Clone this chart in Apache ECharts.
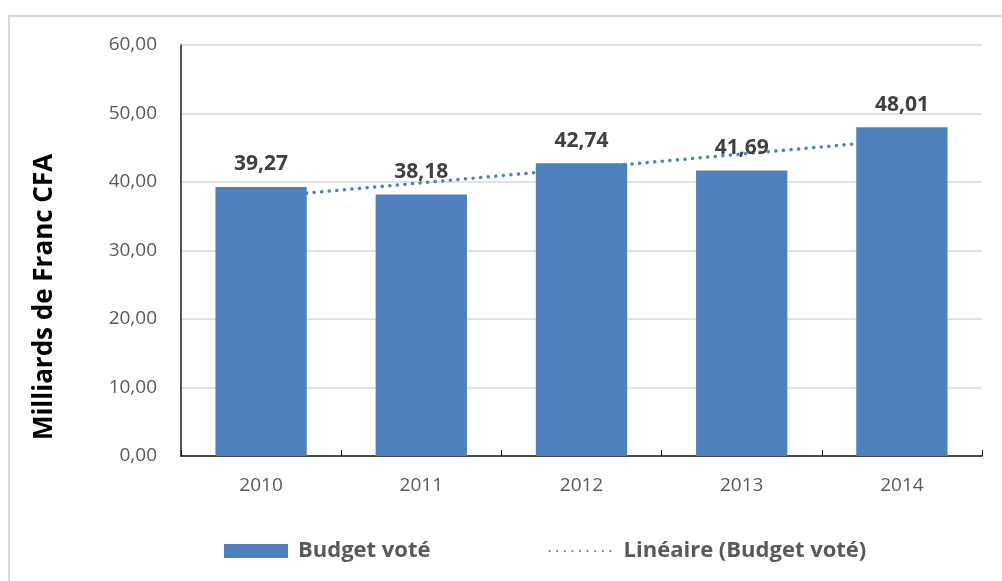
<!DOCTYPE html>
<html>
<head>
<meta charset="utf-8">
<script src="https://cdn.jsdelivr.net/npm/echarts@6/dist/echarts.min.js"></script>
<style>
html,body{margin:0;padding:0;background:#fff;}
#c{width:1002px;height:581px;}
</style>
</head>
<body>
<div id="c"></div>
<script>
var categories = ['2010', '2011', '2012', '2013', '2014'];
var budgetVote = [39.27, 38.18, 42.74, 41.69, 48.01];
var trendLinear = [37.78, 39.88, 41.98, 44.08, 46.18];
var yTicks = [0, 10, 20, 30, 40, 50, 60];
var yTitle = 'Milliards de Franc CFA';

var FONT = '"Open Sans", "Liberation Sans", sans-serif';
function fr(v) { return Number(v).toFixed(2).replace('.', ','); }

var chart = echarts.init(document.getElementById('c'));
chart.setOption({
  animation: false,
  backgroundColor: '#fff',
  textStyle: { fontFamily: FONT },
  graphic: [{
    type: 'rect',
    shape: { x: 9, y: 16, width: 1200, height: 800 },
    style: { fill: 'none', stroke: '#d9d9d9', lineWidth: 2 },
    silent: true
  }, {
    type: 'text',
    x: 45, y: 297,
    rotation: Math.PI / 2,
    style: {
      text: yTitle,
      fontFamily: FONT, fontSize: 26, fontWeight: 'bold', fill: '#000',
      align: 'center', verticalAlign: 'middle'
    },
    silent: true
  }],
  grid: { left: 181, right: 20, top: 45, bottom: 125, containLabel: false },
  legend: {
    left: 219, top: 535,
    itemWidth: 64, itemHeight: 14, itemGap: 118,
    textStyle: { fontFamily: FONT, fontSize: 22, fontWeight: 'bold', color: '#595959', padding: [0, 0, 0, 5] },
    data: [
      { name: 'Budget voté', icon: 'rect' },
      { name: 'Linéaire (Budget voté)', itemStyle: { opacity: 0 } }
    ]
  },
  xAxis: {
    type: 'category',
    data: categories,
    boundaryGap: true,
    axisLine: { lineStyle: { color: '#1a1a1a', width: 1.5 } },
    axisTick: { show: true, inside: true, length: 6, lineStyle: { color: '#1a1a1a' } },
    axisLabel: { fontFamily: FONT, fontSize: 19, color: '#595959', margin: 20 }
  },
  yAxis: {
    type: 'value',
    min: yTicks[0], max: yTicks[yTicks.length - 1], interval: 10,
    axisLine: { show: true, lineStyle: { color: '#1a1a1a', width: 1.5 } },
    axisTick: { show: false },
    splitLine: { lineStyle: { color: '#d9d9d9', width: 1.5 } },
    axisLabel: { fontFamily: FONT, fontSize: 19, color: '#595959', margin: 24, formatter: fr }
  },
  series: [
    {
      name: 'Linéaire (Budget voté)',
      type: 'line',
      data: trendLinear,
      symbol: 'none',
      z: 1,
      itemStyle: { color: '#4f81bd' },
      lineStyle: { color: '#4f81bd', width: 3.5, type: [0.1, 7.5], cap: 'round' }
    },
    {
      name: 'Budget voté',
      type: 'bar',
      data: budgetVote,
      barWidth: '57%',
      z: 3,
      itemStyle: { color: '#4f81bd' },
      label: {
        show: true, position: 'top', distance: 12,
        fontFamily: FONT, fontSize: 21, fontWeight: 'bold', color: '#404040',
        formatter: function (p) { return fr(p.value); }
      }
    }
  ]
});
</script>
</body>
</html>
